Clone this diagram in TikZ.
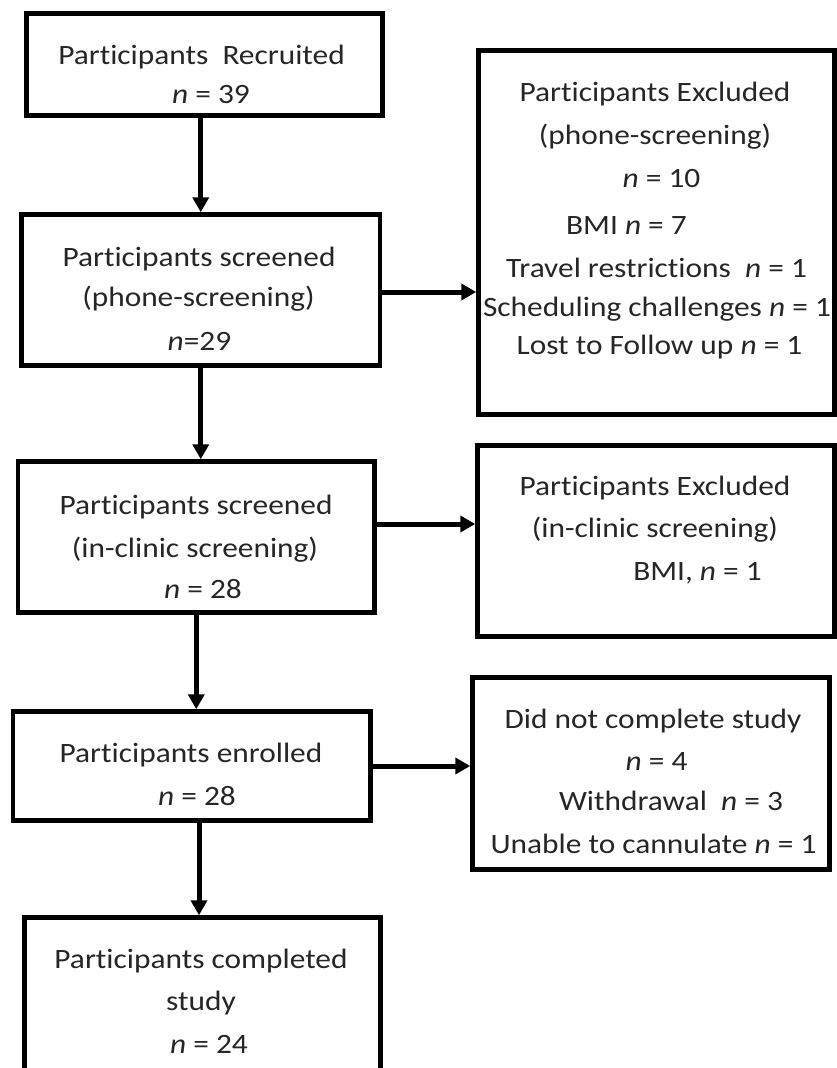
\documentclass[tikz,border=0pt]{standalone}
\usepackage{fontspec}
\setmainfont{Carlito}[FakeStretch=1.12, Ligatures={NoCommon}, RawFeature={-liga;-clig;-dlig}]
\usetikzlibrary{arrows.meta}
\begin{document}
\begin{tikzpicture}[x=1pt,y=-1pt,
  box/.style={draw=black, line width=4.5pt, inner sep=0pt, fill=none},
  txt/.style={anchor=base, inner sep=0pt, font=\fontsize{28}{42}\selectfont, text=black!85},
  arr/.style={draw=black, line width=5pt, -{Triangle[length=15pt,width=16pt]}}]
\useasboundingbox (0,0) rectangle (837,1068);
\fill[white] (0,0) rectangle (837,1068);
% boxes
\node[box, minimum width=356pt, minimum height=102pt] (b1) at (204.5,64.5) {};
\node[box, minimum width=358.5pt, minimum height=151pt] (b2) at (200.75,290) {};
\node[box, minimum width=356pt, minimum height=364pt] (b3) at (656.5,232.5) {};
\node[box, minimum width=356.5pt, minimum height=151pt] (b4) at (196.25,537) {};
\node[box, minimum width=357pt, minimum height=191pt] (b5) at (656,541) {};
\node[box, minimum width=357.5pt, minimum height=109pt] (b6) at (191.75,766) {};
\node[box, minimum width=357pt, minimum height=192pt] (b7) at (651,773.5) {};
\node[box, minimum width=356pt, minimum height=154.5pt] (b8) at (202.5,994.75) {};
% texts
\node[txt] (t1a) at (201.5,64) {Participants\ \ Recruited};
\node[txt] (t1b) at (211,103) {\textit{n} = 39};
\node[txt] (t2a) at (199,266) {Participants screened};
\node[txt] (t2b) at (198.5,306) {(phone-screening)};
\node[txt] (t2c) at (199.5,350) {\textit{n}=29};
\node[txt] (t3a) at (655,101) {Participants Excluded};
\node[txt] (t3b) at (655,144) {(phone-screening)};
\node[txt] (t3c) at (661.5,187) {\textit{n} = 10};
\node[txt] (t3d) at (626.5,234) {BMI \textit{n} = 7};
\node[txt] (t3e) at (656.5,277) {Travel restrictions\ \ \textit{n} = 1};
\node[txt] (t3f) at (657,316) {Scheduling challenges \textit{n} = 1};
\node[txt] (t3g) at (659.5,354) {Lost to Follow up \textit{n} = 1};
\node[txt] (t4a) at (196,514) {Participants screened};
\node[txt] (t4b) at (195,557) {(in-clinic screening)};
\node[txt] (t4c) at (203,598) {\textit{n} = 28};
\node[txt] (t5a) at (655,495) {Participants Excluded};
\node[txt] (t5b) at (655,537) {(in-clinic screening)};
\node[txt] (t5c) at (697.5,580) {BMI, \textit{n} = 1};
\node[txt] (t6a) at (191,762) {Participants enrolled};
\node[txt] (t6b) at (197,805) {\textit{n} = 28};
\node[txt] (t7a) at (653,728) {Did not complete study};
\node[txt] (t7b) at (656.5,770) {\textit{n} = 4};
\node[txt] (t7c) at (671,810) {Withdrawal\ \ \textit{n} = 3};
\node[txt] (t7d) at (653.5,853) {Unable to cannulate \textit{n} = 1};
\node[txt] (t8a) at (201,968) {Participants completed};
\node[txt] (t8b) at (201,1010) {study};
\node[txt] (t8c) at (209,1053) {\textit{n} = 24};
% arrows
\draw[arr] (b1.south -| b2.north) -- (b2.north);
\draw[arr] (b2.south) -- (b2.south |- b4.north);
\draw[arr] (b4.south) -- (b4.south |- b6.north);
\draw[arr] ([xshift=-3.5pt]b8.north |- b6.south) -- ([xshift=-3.5pt]b8.north);
\draw[arr] ([yshift=-2pt]b2.east) -- ([yshift=-2pt]b2.east -| b3.west);
\draw[arr] ([yshift=13pt]b4.east) -- ([yshift=13pt]b4.east -| b5.west);
\draw[arr] (b6.east) -- (b6.east -| b7.west);
\end{tikzpicture}
\end{document}
